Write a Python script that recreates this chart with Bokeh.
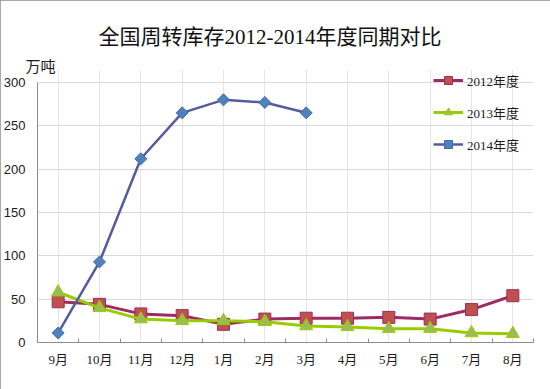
import numpy as np
from bokeh.plotting import figure
from bokeh.models import (FactorRange, Range1d, LinearAxis, FixedTicker,
                          Legend, LegendItem, Title)
from bokeh.embed import file_html
from bokeh.resources import INLINE

# ---- data ----
months = ["9月", "10月", "11月", "12月", "1月", "2月", "3月", "4月", "5月", "6月", "7月", "8月"]
y2012 = [47, 44, 33, 31, 21, 27, 28, 28, 29, 27, 38, 54]
y2013 = [58, 40, 27, 25, 25, 24, 19, 18, 16, 16, 11, 10]
y2014 = [11, 93, 212, 265, 280, 277, 265]
series_names = ["2012年度", "2013年度", "2014年度"]
y_ticks = [0, 50, 100, 150, 200, 250, 300]
title_text = "全国周转库存2012-2014年度同期对比"
unit_text = "万吨"

SERIF_CJK = "Liberation Serif, Noto Sans CJK SC"
GRAY = "#8C8C8C"
TXT = "#1a1a1a"

# frame is a little taller than the value axis (room for the legend)
p = figure(width=550, height=389,
           x_range=FactorRange(*months), y_range=Range1d(y_ticks[0], 315),
           output_backend="svg", toolbar_location=None,
           x_axis_location=None, y_axis_location="left",
           min_border_left=36, min_border_right=17,
           min_border_top=69, min_border_bottom=47)
p.background_fill_color = "white"
p.border_fill_color = "white"
p.outline_line_color = None
p.styles = {"outline": "1px solid #8C8C8C", "outline-offset": "-1px"}

# unit label (closest to the frame) and main title
unit_title = Title(text=unit_text, align="left", offset=-12,
                   text_font="Noto Sans CJK SC", text_font_size="15px",
                   text_font_style="normal", text_color=TXT)
try:
    unit_title.standoff = -12
except Exception:
    unit_title.standoff = 0
p.add_layout(unit_title, "above")

p.title.text = title_text
p.title.align = "left"
p.title.offset = 61
p.title.standoff = 20
p.title.text_font = SERIF_CJK
p.title.text_font_size = "21px"
p.title.text_font_style = "normal"
p.title.text_color = "#111111"

# y axis
yt = FixedTicker(ticks=y_ticks)
p.yaxis.ticker = yt
p.yaxis.bounds = (y_ticks[0], y_ticks[-1])
p.yaxis.axis_line_color = GRAY
p.yaxis.major_tick_line_color = None
p.yaxis.minor_tick_line_color = None
p.yaxis.major_tick_out = 0
p.yaxis.major_tick_in = 0
p.yaxis.major_label_standoff = 12
p.yaxis.major_label_text_font = "Liberation Sans"
p.yaxis.major_label_text_font_size = "13px"
p.yaxis.major_label_text_color = TXT
p.ygrid.ticker = yt
p.ygrid.grid_line_color = "#D9D9D9"
p.ygrid.grid_line_width = 1

# x axis: labels at category centres, small inner ticks between categories
n = len(months)
centres = [i + 0.5 for i in range(n)]
xt = FixedTicker(ticks=centres, minor_ticks=list(range(n + 1)))
xax = LinearAxis(ticker=xt, axis_line_color=GRAY,
                 major_tick_line_color=None, major_tick_in=0, major_tick_out=0,
                 minor_tick_line_color=GRAY, minor_tick_in=4, minor_tick_out=0,
                 major_label_overrides={c: m for c, m in zip(centres, months)},
                 major_label_standoff=9, major_label_text_font=SERIF_CJK,
                 major_label_text_font_size="13px", major_label_text_color=TXT)
p.add_layout(xax, "below")

# series
l12 = p.line(x=months, y=y2012, line_color="#9B2C64", line_width=3)
s12 = p.scatter(x=months, y=y2012, marker="square", size=12,
                fill_color="#C0504D", line_color="#9B2C64", line_width=1)
l13 = p.line(x=months, y=y2013, line_color="#99CC00", line_width=3)
s13 = p.scatter(x=months, y=y2013, marker="triangle", size=13,
                fill_color="#9BBB59", line_color="#99CC00", line_width=1)
x14 = months[:len(y2014)]
l14 = p.line(x=x14, y=y2014, line_color="#575B9E", line_width=2.5)
s14 = p.scatter(x=x14, y=y2014, marker="square", angle=np.pi / 4, size=8.5,
                fill_color="#4F81BD", line_color="#3F6DA8", line_width=1)

legend = Legend(items=[LegendItem(label=series_names[0], renderers=[l12, s12]),
                       LegendItem(label=series_names[1], renderers=[l13, s13]),
                       LegendItem(label=series_names[2], renderers=[l14, s14])],
                location=(396, 188), padding=0, margin=0, spacing=12,
                glyph_width=30, glyph_height=20, label_height=20, label_standoff=4,
                border_line_color=None, background_fill_alpha=0,
                label_text_font=SERIF_CJK, label_text_font_size="13px",
                label_text_color=TXT)
p.add_layout(legend)

open("out.html", "w").write(file_html(p, INLINE))
